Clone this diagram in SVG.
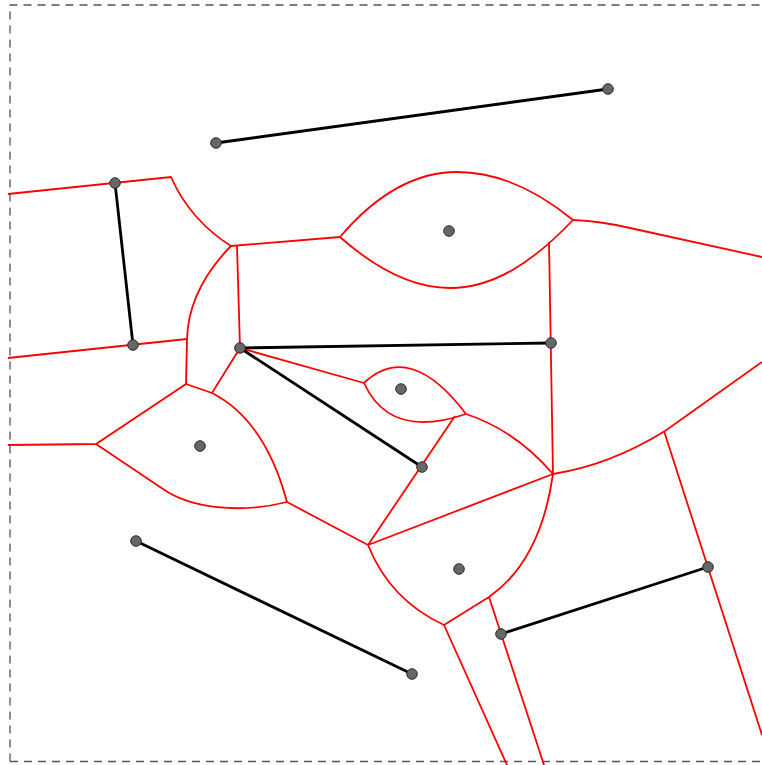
<svg xmlns="http://www.w3.org/2000/svg" width="762" height="765" viewBox="0 0 762 765">
<style>
.v{fill:none;stroke:#ff0000;stroke-width:1.8}
.s{fill:none;stroke:#000;stroke-width:2.8}
.p{fill:#666;stroke:#2a2a2a;stroke-width:1}
.b{fill:none;stroke:#555;stroke-width:1.3;stroke-dasharray:8,6}
</style>
<rect width="762" height="765" fill="#fff"/>
<path class="b" d="M10,761.5 L10,5 L770,5 M10,761.5 L770,761.5"/>
<g id="voronoi">
<path class="v" d="M8,194 L171,177 Q190,220 231,246 L340,237"/>
<path class="v" d="M340,237 C380,190 420,172 457,172 C500,172 540,193 573,220"/>
<path class="v" d="M340,237 C375,268 412,288 450,288 C495,288 535,260 573,220"/>
<path class="v" d="M573,220 Q600,221 630,228 L762,257"/>
<path class="v" d="M549,242 L553,474"/>
<path class="v" d="M553,474 Q610,465 665,431 L762,362"/>
<path class="v" d="M664,431 L762,735"/>
<path class="v" d="M237,246 L240,348"/>
<path class="v" d="M231,246 Q188,290 187,340 L186,384"/>
<path class="v" d="M8,358 L187,339"/>
<path class="v" d="M186,384 L212,393 L240,348"/>
<path class="v" d="M186,384 L96,444 L8,445"/>
<path class="v" d="M96,444 L163,489 C190,508 240,514 287,502"/>
<path class="v" d="M212,393 Q265,420 287,502 L368,545"/>
<path class="v" d="M240,348 L364,383"/>
<path class="v" d="M364,383 Q410,340 466,414"/>
<path class="v" d="M364,383 Q390,440 466,414"/>
<path class="v" d="M455,416 L368,545"/>
<path class="v" d="M466,414 Q515,430 553,474"/>
<path class="v" d="M368,545 L553,474"/>
<path class="v" d="M553,474 C545,530 525,572 489,597 L444,625"/>
<path class="v" d="M368,545 Q390,600 444,625"/>
<path class="v" d="M444,625 L507,765"/>
<path class="v" d="M489,597 L544,765"/>
</g>
<g id="segments">
<line class="s" x1="216" y1="143" x2="608" y2="89"/>
<line class="s" x1="115" y1="183" x2="133" y2="345"/>
<line class="s" x1="240" y1="348" x2="551" y2="343"/>
<line class="s" x1="240" y1="348" x2="422" y2="467"/>
<line class="s" x1="136" y1="541" x2="412" y2="674"/>
<line class="s" x1="501" y1="634" x2="708" y2="567"/>
</g>
<g id="sites">
<circle class="p" cx="216" cy="143" r="5.3"/>
<circle class="p" cx="608" cy="89" r="5.3"/>
<circle class="p" cx="115" cy="183" r="5.3"/>
<circle class="p" cx="133" cy="345" r="5.3"/>
<circle class="p" cx="240" cy="348" r="5.3"/>
<circle class="p" cx="551" cy="343" r="5.3"/>
<circle class="p" cx="422" cy="467" r="5.3"/>
<circle class="p" cx="449" cy="231" r="5.3"/>
<circle class="p" cx="401" cy="389" r="5.3"/>
<circle class="p" cx="200" cy="446" r="5.3"/>
<circle class="p" cx="136" cy="541" r="5.3"/>
<circle class="p" cx="412" cy="674" r="5.3"/>
<circle class="p" cx="459" cy="569" r="5.3"/>
<circle class="p" cx="501" cy="634" r="5.3"/>
<circle class="p" cx="708" cy="567" r="5.3"/>
</g>
</svg>
